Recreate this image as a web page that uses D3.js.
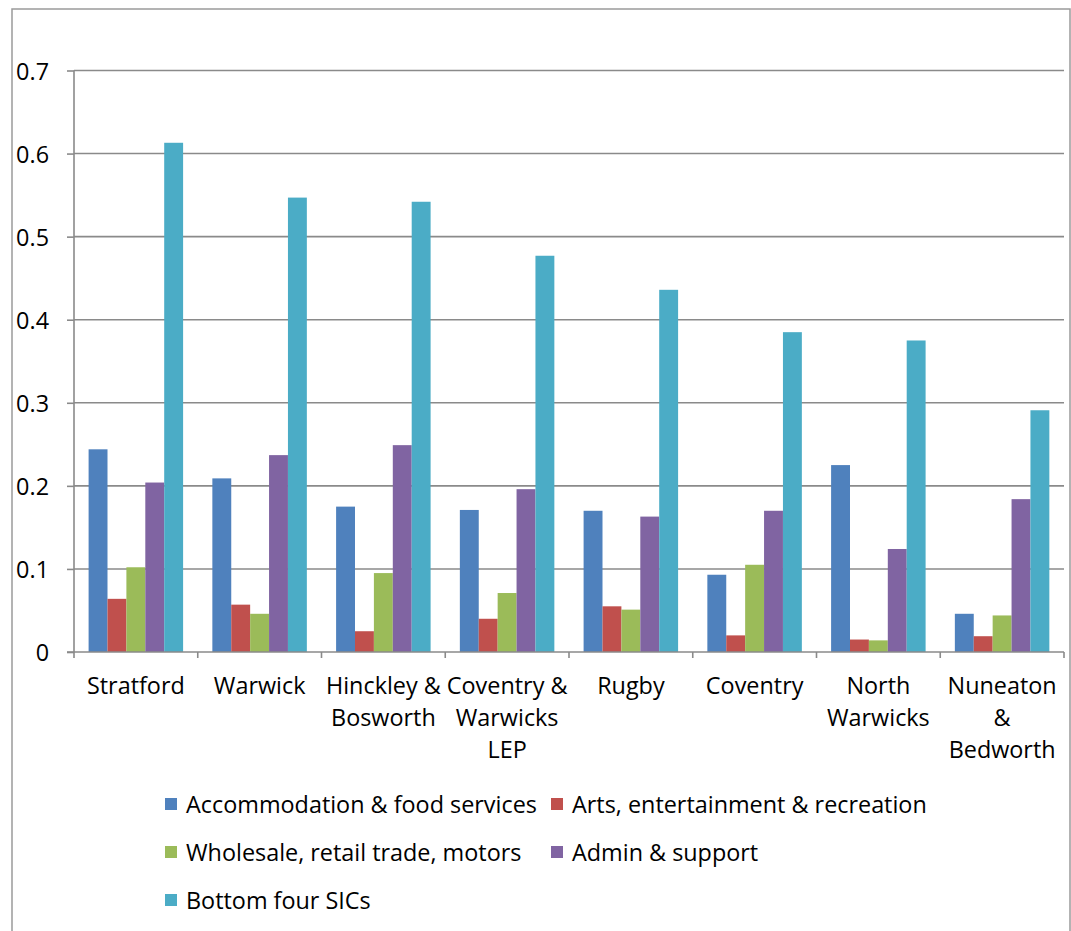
<!DOCTYPE html>
<html>
<head>
<meta charset="utf-8">
<script src="https://cdn.jsdelivr.net/npm/d3@7/dist/d3.min.js"></script>
<style>
  body { margin: 0; background: #fff; }
  svg text { font-family: "Open Sans", "Liberation Sans", sans-serif; fill: #000; }
</style>
</head>
<body>
<svg id="chart" width="1071" height="931"></svg>
<script>
// data
var categories = ["Stratford", "Warwick", "Hinckley & Bosworth", "Coventry & Warwicks LEP",
                  "Rugby", "Coventry", "North Warwicks", "Nuneaton & Bedworth"];
var categoryLines = [["Stratford"], ["Warwick"], ["Hinckley &", "Bosworth"], ["Coventry &", "Warwicks", "LEP"],
                     ["Rugby"], ["Coventry"], ["North", "Warwicks"], ["Nuneaton", "&", "Bedworth"]];
var seriesNames = ["Accommodation & food services", "Arts, entertainment & recreation",
                   "Wholesale, retail trade, motors", "Admin & support", "Bottom four SICs"];
var accommodation = [0.244, 0.209, 0.175, 0.171, 0.170, 0.093, 0.225, 0.046];
var arts          = [0.064, 0.057, 0.025, 0.040, 0.055, 0.020, 0.015, 0.019];
var wholesale     = [0.102, 0.046, 0.095, 0.071, 0.051, 0.105, 0.014, 0.044];
var admin         = [0.204, 0.237, 0.249, 0.196, 0.163, 0.170, 0.124, 0.184];
var bottomFour    = [0.613, 0.547, 0.542, 0.477, 0.436, 0.385, 0.375, 0.291];
var yTicks = [0, 0.1, 0.2, 0.3, 0.4, 0.5, 0.6, 0.7];

var seriesValues = [accommodation, arts, wholesale, admin, bottomFour];
var colors = ["#4F81BD", "#C0504D", "#9BBB59", "#8064A2", "#4BACC6"];

var svg = d3.select("#chart");
var gridColor = "#8a8a8a";
var fontSize = 24;

// squeeze the substitute font to roughly Calibri widths
var probe = svg.append("text").attr("font-size", fontSize).text("Accommodation & food services");
var sx = 351 / probe.node().getComputedTextLength();
probe.remove();

// outer chart border
svg.append("rect")
    .attr("x", 12).attr("y", 9)
    .attr("width", 1058).attr("height", 1000)
    .attr("fill", "none")
    .attr("stroke", "#9a9a9a")
    .attr("stroke-width", 1.5);

var x0 = d3.scaleBand().domain(categories).range([74, 1064]).padding(0);
var x1 = d3.scaleBand().domain(seriesNames).range([14.6, 109.1]).padding(0);
var y = d3.scaleLinear().domain([0, 0.7]).range([652, 70.5]);

// gridlines
svg.append("g")
  .selectAll("line")
  .data(yTicks.slice(1))
  .enter().append("line")
    .attr("x1", 74).attr("x2", 1064)
    .attr("y1", function(d) { return y(d); })
    .attr("y2", function(d) { return y(d); })
    .attr("stroke", gridColor)
    .attr("stroke-width", 1.6);

// bars
svg.append("g")
  .selectAll("g")
  .data(categories)
  .enter().append("g")
    .attr("transform", function(d) { return "translate(" + x0(d) + ",0)"; })
  .selectAll("rect")
  .data(function(d, i) {
      return seriesNames.map(function(s, j) { return {s: s, v: seriesValues[j][i], c: colors[j]}; });
  })
  .enter().append("rect")
    .attr("x", function(d) { return x1(d.s); })
    .attr("width", x1.bandwidth())
    .attr("y", function(d) { return y(d.v); })
    .attr("height", function(d) { return y(0) - y(d.v); })
    .attr("fill", function(d) { return d.c; });

// y axis
var yAxis = svg.append("g")
    .attr("transform", "translate(74,0)")
    .call(d3.axisLeft(y).tickValues(yTicks).tickSize(7).tickFormat(d3.format("")));
yAxis.select(".domain").attr("stroke", gridColor).attr("stroke-width", 1.6)
    .attr("d", "M0," + y(0.7) + "V" + y(0));
yAxis.selectAll(".tick line").attr("stroke", gridColor).attr("stroke-width", 1.6);
yAxis.selectAll(".tick text")
    .attr("x", 0).attr("dy", null).attr("y", 8.5)
    .attr("font-size", fontSize)
    .attr("font-family", null)
    .attr("transform", "translate(-25,0) scale(" + sx + ",1)");

// x axis line and boundary ticks
var xAxis = svg.append("g")
    .attr("transform", "translate(0," + y(0) + ")")
    .call(d3.axisBottom(x0).tickSize(0).tickFormat(""));
xAxis.select(".domain").attr("stroke", gridColor).attr("stroke-width", 1.6)
    .attr("d", "M67,0H1064");
var bounds = categories.map(function(c) { return x0(c); }).concat([x0.range()[1]]);
xAxis.selectAll(".bound")
  .data(bounds)
  .enter().append("line")
    .attr("x1", function(d) { return d; }).attr("x2", function(d) { return d; })
    .attr("y1", 0).attr("y2", 6)
    .attr("stroke", gridColor).attr("stroke-width", 1.6);

// category labels
var labels = svg.append("g");
categories.forEach(function(c, i) {
  var cx = x0(c) + x0.bandwidth() / 2;
  categoryLines[i].forEach(function(line, k) {
    labels.append("text")
        .attr("text-anchor", "middle")
        .attr("font-size", fontSize)
        .attr("transform", "translate(" + cx + "," + (694 + k * 32.2) + ") scale(" + sx + ",1)")
        .text(line);
  });
});

// legend
var legendPos = [[165, 804], [551, 804], [165, 852], [551, 852], [165, 900]];
var legend = svg.append("g")
  .selectAll("g")
  .data(seriesNames)
  .enter().append("g")
    .attr("transform", function(d, i) { return "translate(" + legendPos[i][0] + "," + legendPos[i][1] + ")"; });
legend.append("rect")
    .attr("x", 0).attr("y", -6)
    .attr("width", 12).attr("height", 12)
    .attr("fill", function(d, i) { return colors[i]; });
legend.append("text")
    .attr("font-size", fontSize)
    .attr("transform", "translate(21,8.5) scale(" + sx + ",1)")
    .text(function(d) { return d; });
</script>
</body>
</html>
